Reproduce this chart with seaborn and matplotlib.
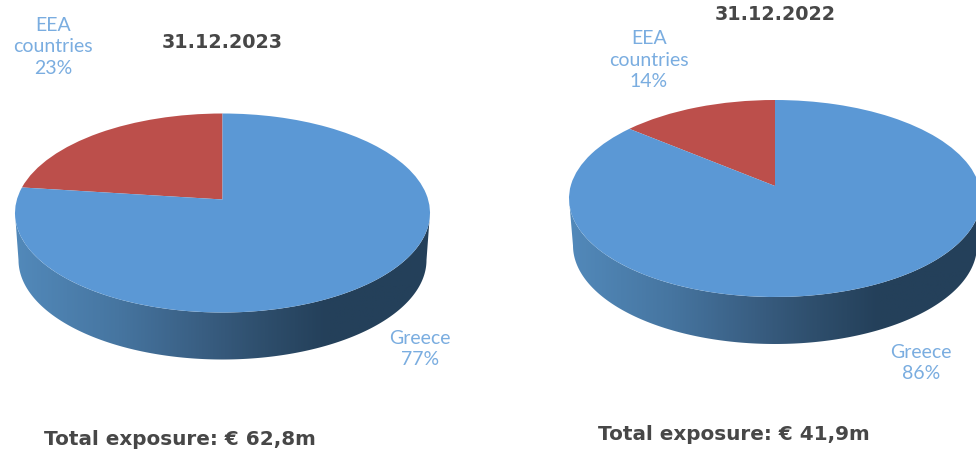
import numpy as np
import matplotlib
matplotlib.use("Agg")
import matplotlib.pyplot as plt
from matplotlib.colors import LinearSegmentedColormap
from matplotlib.patches import Polygon
from matplotlib.transforms import Transform, Affine2D
import seaborn as sns

# ---- data ----
categories = ["EEA\ncountries", "Greece"]
values_2023 = [23, 77]
values_2022 = [14, 86]
date_2023 = "31.12.2023"
date_2022 = "31.12.2022"
total_2023 = "Total exposure: € 62,8m"
total_2022 = "Total exposure: € 41,9m"

sns.set_theme(style="white")
plt.rcParams["font.family"] = ["Lato", "DejaVu Sans"]

palette = sns.color_palette(["#BC4F4B", "#5B98D5"])
LABEL = "#7AADE0"
TITLE = "#474747"
wall_cmap = LinearSegmentedColormap.from_list(
    "wall", [(0.0, "#5289BA"), (0.25, "#4675A0"), (0.45, "#395E82"),
             (0.6, "#2E4E6C"), (0.75, "#24405A"), (1.0, "#24405A")])


class Perspective(Transform):
    """Projects the unit disc onto a tilted disc, in pixel offsets."""
    input_dims = output_dims = 2

    def __init__(self, k, a, b):
        super().__init__()
        self.k, self.a, self.b = k, a, b

    def transform_non_affine(self, xy):
        xy = np.asarray(xy, float)
        d = 1 + self.k * xy[:, 1]
        return np.column_stack([self.b * xy[:, 0] / d, self.a * xy[:, 1] / d])


fig = plt.figure(figsize=(9.76, 4.52), dpi=100, facecolor="white")


def draw_pie(rect_values, cx, cy, up, down, rx, depth, rx_low):
    ax = fig.add_axes([0, 0, 1, 1], facecolor="none")
    wedges, _ = ax.pie(rect_values, startangle=90, counterclock=True,
                       colors=palette, radius=1, wedgeprops={"linewidth": 0})
    ax.set_aspect("auto")
    ax.set_xlim(0, 976)
    ax.set_ylim(452, 0)
    ax.axis("off")

    k = (down / up - 1) / (down / up + 1)
    a = up * (1 + k)
    b = rx * np.sqrt(1 - k ** 2)
    tr = Perspective(k, a, b) + Affine2D().scale(1, -1).translate(cx, cy) + ax.transData
    for w in wedges:
        w.set_transform(tr)
        w.set_zorder(3)
        w.set_antialiased(True)

    # side wall of the disc, shaded left to right
    ec = cy + (down - up) / 2
    ry = (up + down) / 2
    t = np.linspace(0, np.pi, 200)
    top = np.column_stack([cx + rx * np.cos(t), ec + ry * np.sin(t)])
    bottom = np.column_stack([cx + rx_low * np.cos(t[::-1]),
                              ec + depth + ry * np.sin(t[::-1])])
    wall = Polygon(np.vstack([top, bottom]), closed=True, transform=ax.transData,
                   facecolor="none", edgecolor="none")
    ax.add_patch(wall)
    grad = np.linspace(0, 1, 400).reshape(1, -1)
    im = ax.imshow(grad, cmap=wall_cmap, aspect="auto", zorder=2,
                   extent=(cx - rx, cx + rx, ec + ry + depth + 2, ec - 2))
    im.set_clip_path(wall)
    ax.set_xlim(0, 976)
    ax.set_ylim(452, 0)
    return ax


ax1 = draw_pie(values_2023, 222.5, 200.5, 86, 113, 207.5, 47, 204)
ax2 = draw_pie(values_2022, 775, 187, 86, 111, 206, 47, 202)

lab = dict(ha="center", va="center", color=LABEL, fontsize=14, fontweight="normal",
           linespacing=1.34, zorder=5)
ax2.text(53, 47, f"{categories[0]}\n{values_2023[0]}%", **lab)
ax2.text(420, 349, f"{categories[1]}\n{values_2023[1]}%", **lab)
ax2.text(649, 60, f"{categories[0]}\n{values_2022[0]}%", **lab)
ax2.text(921, 363, f"{categories[1]}\n{values_2022[1]}%", **lab)

head = dict(ha="center", va="center", color=TITLE, fontweight="bold",
            family=["DejaVu Sans"], zorder=5)
ax2.text(222.5, 43, date_2023, fontsize=13.8, **head)
ax2.text(775, 15, date_2022, fontsize=13.8, **head)
ax2.text(180, 440, total_2023, fontsize=14.4, **head)
ax2.text(733.5, 435, total_2022, fontsize=14.4, **head)

fig.savefig("out.png", dpi=100)
